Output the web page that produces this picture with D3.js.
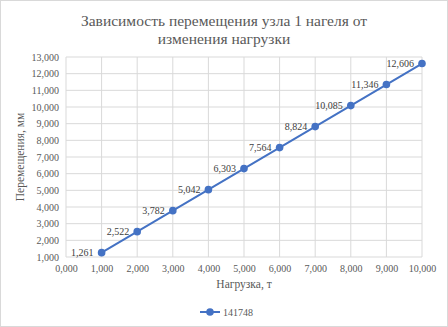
<!DOCTYPE html>
<html>
<head>
<meta charset="utf-8">
<script src="https://cdn.jsdelivr.net/npm/d3@7"></script>
<style>
  body { margin: 0; background: #fff; }
</style>
</head>
<body>
<div id="chart"></div>
<script>
// data
const loads = [1, 2, 3, 4, 5, 6, 7, 8, 9, 10];
const displacements = [1.261, 2.522, 3.782, 5.042, 6.303, 7.564, 8.824, 10.085, 11.346, 12.606];
const xTicks = [0, 1, 2, 3, 4, 5, 6, 7, 8, 9, 10];
const yTicks = [1, 2, 3, 4, 5, 6, 7, 8, 9, 10, 11, 12, 13];
const seriesName = "141748";
const titleLines = ["Зависимость перемещения узла 1 нагеля от", "изменения нагрузки"];

const W = 448, H = 327;
const FONT = "'Liberation Serif', 'Times New Roman', serif";
const margin = {top: 57, right: 26, bottom: 70, left: 66};
const width = W - margin.left - margin.right,
      height = H - margin.top - margin.bottom;

// Excel style: comma as decimal separator
const fmtNum = v => v.toFixed(3).replace(".", ",");

const svg = d3.select("#chart").append("svg")
  .attr("width", W).attr("height", H);

svg.append("rect")
  .attr("x", 0.5).attr("y", 0.5)
  .attr("width", W - 1).attr("height", H - 1)
  .attr("fill", "#fff").attr("stroke", "#d9d9d9");

// title
svg.append("g").selectAll("text")
  .data(titleLines)
  .join("text")
    .attr("x", W / 2)
    .attr("y", (d, i) => 26 + i * 18)
    .attr("text-anchor", "middle")
    .attr("fill", "#595959")
    .style("font-family", FONT)
    .style("font-size", "15.5px")
    .text(d => d);

const g = svg.append("g")
  .attr("transform", `translate(${margin.left},${margin.top})`);

const x = d3.scaleLinear().domain([0, 10]).range([0, width]);
const y = d3.scaleLinear().domain([1, 13]).range([height, 0]);

// grid
g.append("g").selectAll("line")
  .data(yTicks)
  .join("line")
    .attr("x1", 0).attr("x2", width)
    .attr("y1", d => y(d)).attr("y2", d => y(d))
    .attr("stroke", "#d9d9d9");
g.append("g").selectAll("line")
  .data(xTicks)
  .join("line")
    .attr("x1", d => x(d)).attr("x2", d => x(d))
    .attr("y1", 0).attr("y2", height)
    .attr("stroke", "#d9d9d9");

// axes
const yAxis = g.append("g")
  .call(d3.axisLeft(y).tickValues(yTicks).tickSize(0).tickPadding(7).tickFormat(fmtNum));
yAxis.select(".domain").remove();
yAxis.selectAll("text").attr("fill", "#595959").style("font-size", "10px")
  .style("font-family", FONT);

const xAxis = g.append("g")
  .attr("transform", `translate(0,${height})`)
  .call(d3.axisBottom(x).tickValues(xTicks).tickSize(0).tickPadding(8).tickFormat(fmtNum));
xAxis.select(".domain").remove();
xAxis.selectAll("text").attr("fill", "#595959").style("font-size", "10px")
  .style("font-family", FONT);

// axis titles
svg.append("text")
  .attr("x", margin.left + width / 2)
  .attr("y", margin.top + height + 31)
  .attr("text-anchor", "middle")
  .attr("fill", "#595959")
  .style("font-family", FONT)
  .style("font-size", "11.5px")
  .text("Нагрузка, т");

svg.append("text")
  .attr("transform", `translate(24,${margin.top + height / 2}) rotate(-90)`)
  .attr("text-anchor", "middle")
  .attr("fill", "#595959")
  .style("font-family", FONT)
  .style("font-size", "11.5px")
  .text("Перемещения, мм");

// line
const pts = loads.map((d, i) => [d, displacements[i]]);
g.append("path")
  .datum(pts)
  .attr("fill", "none")
  .attr("stroke", "#4472c4")
  .attr("stroke-width", 2)
  .attr("d", d3.line().x(d => x(d[0])).y(d => y(d[1])));

g.append("g").selectAll("circle")
  .data(pts)
  .join("circle")
    .attr("cx", d => x(d[0]))
    .attr("cy", d => y(d[1]))
    .attr("r", 3.8)
    .attr("fill", "#4472c4");

// data labels (left of points)
g.append("g").selectAll("text")
  .data(pts)
  .join("text")
    .attr("x", d => x(d[0]) - 8)
    .attr("y", d => y(d[1]))
    .attr("dy", "0.35em")
    .attr("text-anchor", "end")
    .attr("fill", "#404040")
    .style("font-family", FONT)
    .style("font-size", "10px")
    .text(d => fmtNum(d[1]));

// legend
const legend = svg.append("g")
  .attr("transform", `translate(200,312)`);
legend.append("line")
  .attr("x1", 0).attr("x2", 20)
  .attr("stroke", "#4472c4").attr("stroke-width", 2);
legend.append("circle")
  .attr("cx", 10).attr("r", 3.8).attr("fill", "#4472c4");
legend.append("text")
  .attr("x", 23).attr("y", 0)
  .attr("dy", "0.35em")
  .attr("fill", "#595959")
  .style("font-family", FONT)
  .style("font-size", "10px")
  .text(seriesName);
</script>
</body>
</html>
